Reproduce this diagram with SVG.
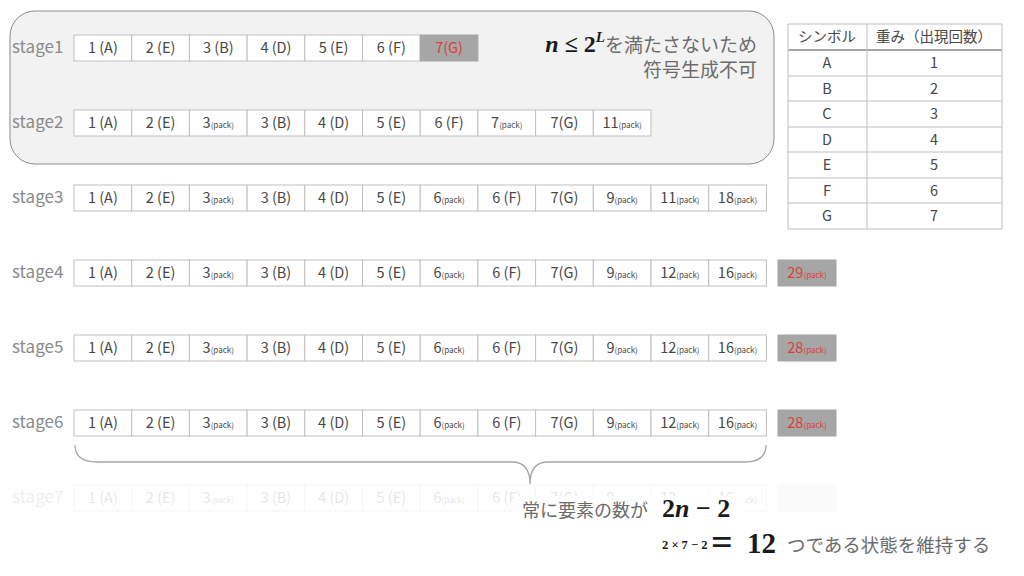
<svg xmlns="http://www.w3.org/2000/svg" width="1024" height="576" viewBox="0 0 1024 576">
<style>
.bg{fill:#ffffff}
.panel{fill:#f2f2f2;stroke:#8c8c8c;stroke-width:1}
.cell{fill:#ffffff;stroke:#bfbfbf;stroke-width:1}
.hot{fill:#a6a6a6;stroke:#a6a6a6;stroke-width:1}
.lbl{font-family:"Noto Sans CJK JP","Noto Sans",sans-serif;font-size:17px;fill:#8a8a8a}
.t{font-family:"Noto Sans CJK JP","Noto Sans",sans-serif;font-size:14.5px;fill:#474747;text-anchor:middle}
.red{fill:#d9413a}
.pk{font-size:8px}
.jp{font-family:"Noto Sans CJK JP",sans-serif;fill:#6b6b6b}
.math{font-family:"Liberation Serif","DejaVu Serif",serif;fill:#1a1a1a;font-weight:bold}
.tl{stroke:#bfbfbf;stroke-width:1;fill:none}
.brace{fill:none;stroke:#a6a6a6;stroke-width:1.3}
</style>
<rect class="bg" x="0" y="0" width="1024" height="576"/>
<g id="panel">
<rect class="panel" x="10" y="11" width="764" height="153" rx="25"/>
<text x="757" y="52" text-anchor="end"><tspan class="math" font-style="italic" font-size="24">n</tspan><tspan class="math" font-size="24"> ≤ </tspan><tspan class="math" font-size="24">2</tspan><tspan class="math" font-style="italic" font-size="15" dy="-10">L</tspan><tspan class="jp" font-size="19" dy="10">を満たさないため</tspan></text>
<text class="jp" x="757" y="77" font-size="19" text-anchor="end">符号生成不可</text>
</g>

<g id="stage1">
<text class="lbl" x="12" y="53">stage1</text>
<rect class="cell" x="74" y="35" width="57.7" height="26"/>
<rect class="cell" x="131.7" y="35" width="57.7" height="26"/>
<rect class="cell" x="189.4" y="35" width="57.7" height="26"/>
<rect class="cell" x="247.1" y="35" width="57.7" height="26"/>
<rect class="cell" x="304.8" y="35" width="57.7" height="26"/>
<rect class="cell" x="362.5" y="35" width="57.7" height="26"/>
<rect class="hot" x="420.2" y="35" width="57.7" height="26"/>
<text class="t" x="102.85" y="53">1 (A)</text>
<text class="t" x="160.55" y="53">2 (E)</text>
<text class="t" x="218.25" y="53">3 (B)</text>
<text class="t" x="275.95" y="53">4 (D)</text>
<text class="t" x="333.65" y="53">5 (E)</text>
<text class="t" x="391.35" y="53">6 (F)</text>
<text class="t red" x="449.05" y="53">7(G)</text>
</g>

<g id="stage2">
<text class="lbl" x="12" y="128">stage2</text>
<rect class="cell" x="74" y="110" width="57.7" height="26"/>
<rect class="cell" x="131.7" y="110" width="57.7" height="26"/>
<rect class="cell" x="189.4" y="110" width="57.7" height="26"/>
<rect class="cell" x="247.1" y="110" width="57.7" height="26"/>
<rect class="cell" x="304.8" y="110" width="57.7" height="26"/>
<rect class="cell" x="362.5" y="110" width="57.7" height="26"/>
<rect class="cell" x="420.2" y="110" width="57.7" height="26"/>
<rect class="cell" x="477.9" y="110" width="57.7" height="26"/>
<rect class="cell" x="535.6" y="110" width="57.7" height="26"/>
<rect class="cell" x="593.3" y="110" width="57.7" height="26"/>
<text class="t" x="102.85" y="128">1 (A)</text>
<text class="t" x="160.55" y="128">2 (E)</text>
<text class="t" x="218.25" y="128">3<tspan class="pk">(pack)</tspan></text>
<text class="t" x="275.95" y="128">3 (B)</text>
<text class="t" x="333.65" y="128">4 (D)</text>
<text class="t" x="391.35" y="128">5 (E)</text>
<text class="t" x="449.05" y="128">6 (F)</text>
<text class="t" x="506.75" y="128">7<tspan class="pk">(pack)</tspan></text>
<text class="t" x="564.45" y="128">7(G)</text>
<text class="t" x="622.15" y="128">11<tspan class="pk">(pack)</tspan></text>
</g>

<g id="stage3">
<text class="lbl" x="12" y="203">stage3</text>
<rect class="cell" x="74" y="185" width="57.7" height="26"/>
<rect class="cell" x="131.7" y="185" width="57.7" height="26"/>
<rect class="cell" x="189.4" y="185" width="57.7" height="26"/>
<rect class="cell" x="247.1" y="185" width="57.7" height="26"/>
<rect class="cell" x="304.8" y="185" width="57.7" height="26"/>
<rect class="cell" x="362.5" y="185" width="57.7" height="26"/>
<rect class="cell" x="420.2" y="185" width="57.7" height="26"/>
<rect class="cell" x="477.9" y="185" width="57.7" height="26"/>
<rect class="cell" x="535.6" y="185" width="57.7" height="26"/>
<rect class="cell" x="593.3" y="185" width="57.7" height="26"/>
<rect class="cell" x="651" y="185" width="57.7" height="26"/>
<rect class="cell" x="708.7" y="185" width="57.7" height="26"/>
<text class="t" x="102.85" y="203">1 (A)</text>
<text class="t" x="160.55" y="203">2 (E)</text>
<text class="t" x="218.25" y="203">3<tspan class="pk">(pack)</tspan></text>
<text class="t" x="275.95" y="203">3 (B)</text>
<text class="t" x="333.65" y="203">4 (D)</text>
<text class="t" x="391.35" y="203">5 (E)</text>
<text class="t" x="449.05" y="203">6<tspan class="pk">(pack)</tspan></text>
<text class="t" x="506.75" y="203">6 (F)</text>
<text class="t" x="564.45" y="203">7(G)</text>
<text class="t" x="622.15" y="203">9<tspan class="pk">(pack)</tspan></text>
<text class="t" x="679.85" y="203">11<tspan class="pk">(pack)</tspan></text>
<text class="t" x="737.55" y="203">18<tspan class="pk">(pack)</tspan></text>
</g>

<g id="stage4">
<text class="lbl" x="12" y="278">stage4</text>
<rect class="cell" x="74" y="260" width="57.7" height="26"/>
<rect class="cell" x="131.7" y="260" width="57.7" height="26"/>
<rect class="cell" x="189.4" y="260" width="57.7" height="26"/>
<rect class="cell" x="247.1" y="260" width="57.7" height="26"/>
<rect class="cell" x="304.8" y="260" width="57.7" height="26"/>
<rect class="cell" x="362.5" y="260" width="57.7" height="26"/>
<rect class="cell" x="420.2" y="260" width="57.7" height="26"/>
<rect class="cell" x="477.9" y="260" width="57.7" height="26"/>
<rect class="cell" x="535.6" y="260" width="57.7" height="26"/>
<rect class="cell" x="593.3" y="260" width="57.7" height="26"/>
<rect class="cell" x="651" y="260" width="57.7" height="26"/>
<rect class="cell" x="708.7" y="260" width="57.7" height="26"/>
<rect class="hot" x="778" y="260" width="58" height="26"/>
<text class="t" x="102.85" y="278">1 (A)</text>
<text class="t" x="160.55" y="278">2 (E)</text>
<text class="t" x="218.25" y="278">3<tspan class="pk">(pack)</tspan></text>
<text class="t" x="275.95" y="278">3 (B)</text>
<text class="t" x="333.65" y="278">4 (D)</text>
<text class="t" x="391.35" y="278">5 (E)</text>
<text class="t" x="449.05" y="278">6<tspan class="pk">(pack)</tspan></text>
<text class="t" x="506.75" y="278">6 (F)</text>
<text class="t" x="564.45" y="278">7(G)</text>
<text class="t" x="622.15" y="278">9<tspan class="pk">(pack)</tspan></text>
<text class="t" x="679.85" y="278">12<tspan class="pk">(pack)</tspan></text>
<text class="t" x="737.55" y="278">16<tspan class="pk">(pack)</tspan></text>
<text class="t red" x="807" y="278">29<tspan class="pk">(pack)</tspan></text>
</g>

<g id="stage5">
<text class="lbl" x="12" y="353">stage5</text>
<rect class="cell" x="74" y="335" width="57.7" height="26"/>
<rect class="cell" x="131.7" y="335" width="57.7" height="26"/>
<rect class="cell" x="189.4" y="335" width="57.7" height="26"/>
<rect class="cell" x="247.1" y="335" width="57.7" height="26"/>
<rect class="cell" x="304.8" y="335" width="57.7" height="26"/>
<rect class="cell" x="362.5" y="335" width="57.7" height="26"/>
<rect class="cell" x="420.2" y="335" width="57.7" height="26"/>
<rect class="cell" x="477.9" y="335" width="57.7" height="26"/>
<rect class="cell" x="535.6" y="335" width="57.7" height="26"/>
<rect class="cell" x="593.3" y="335" width="57.7" height="26"/>
<rect class="cell" x="651" y="335" width="57.7" height="26"/>
<rect class="cell" x="708.7" y="335" width="57.7" height="26"/>
<rect class="hot" x="778" y="335" width="58" height="26"/>
<text class="t" x="102.85" y="353">1 (A)</text>
<text class="t" x="160.55" y="353">2 (E)</text>
<text class="t" x="218.25" y="353">3<tspan class="pk">(pack)</tspan></text>
<text class="t" x="275.95" y="353">3 (B)</text>
<text class="t" x="333.65" y="353">4 (D)</text>
<text class="t" x="391.35" y="353">5 (E)</text>
<text class="t" x="449.05" y="353">6<tspan class="pk">(pack)</tspan></text>
<text class="t" x="506.75" y="353">6 (F)</text>
<text class="t" x="564.45" y="353">7(G)</text>
<text class="t" x="622.15" y="353">9<tspan class="pk">(pack)</tspan></text>
<text class="t" x="679.85" y="353">12<tspan class="pk">(pack)</tspan></text>
<text class="t" x="737.55" y="353">16<tspan class="pk">(pack)</tspan></text>
<text class="t red" x="807" y="353">28<tspan class="pk">(pack)</tspan></text>
</g>

<g id="stage6">
<text class="lbl" x="12" y="428">stage6</text>
<rect class="cell" x="74" y="410" width="57.7" height="26"/>
<rect class="cell" x="131.7" y="410" width="57.7" height="26"/>
<rect class="cell" x="189.4" y="410" width="57.7" height="26"/>
<rect class="cell" x="247.1" y="410" width="57.7" height="26"/>
<rect class="cell" x="304.8" y="410" width="57.7" height="26"/>
<rect class="cell" x="362.5" y="410" width="57.7" height="26"/>
<rect class="cell" x="420.2" y="410" width="57.7" height="26"/>
<rect class="cell" x="477.9" y="410" width="57.7" height="26"/>
<rect class="cell" x="535.6" y="410" width="57.7" height="26"/>
<rect class="cell" x="593.3" y="410" width="57.7" height="26"/>
<rect class="cell" x="651" y="410" width="57.7" height="26"/>
<rect class="cell" x="708.7" y="410" width="57.7" height="26"/>
<rect class="hot" x="778" y="410" width="58" height="26"/>
<text class="t" x="102.85" y="428">1 (A)</text>
<text class="t" x="160.55" y="428">2 (E)</text>
<text class="t" x="218.25" y="428">3<tspan class="pk">(pack)</tspan></text>
<text class="t" x="275.95" y="428">3 (B)</text>
<text class="t" x="333.65" y="428">4 (D)</text>
<text class="t" x="391.35" y="428">5 (E)</text>
<text class="t" x="449.05" y="428">6<tspan class="pk">(pack)</tspan></text>
<text class="t" x="506.75" y="428">6 (F)</text>
<text class="t" x="564.45" y="428">7(G)</text>
<text class="t" x="622.15" y="428">9<tspan class="pk">(pack)</tspan></text>
<text class="t" x="679.85" y="428">12<tspan class="pk">(pack)</tspan></text>
<text class="t" x="737.55" y="428">16<tspan class="pk">(pack)</tspan></text>
<text class="t red" x="807" y="428">28<tspan class="pk">(pack)</tspan></text>
</g>

<g id="stage7" opacity="0.13">
<text class="lbl" x="12" y="503">stage7</text>
<rect class="cell" x="74" y="485" width="57.7" height="26"/>
<rect class="cell" x="131.7" y="485" width="57.7" height="26"/>
<rect class="cell" x="189.4" y="485" width="57.7" height="26"/>
<rect class="cell" x="247.1" y="485" width="57.7" height="26"/>
<rect class="cell" x="304.8" y="485" width="57.7" height="26"/>
<rect class="cell" x="362.5" y="485" width="57.7" height="26"/>
<rect class="cell" x="420.2" y="485" width="57.7" height="26"/>
<rect class="cell" x="477.9" y="485" width="57.7" height="26"/>
<rect class="cell" x="535.6" y="485" width="57.7" height="26"/>
<rect class="cell" x="593.3" y="485" width="57.7" height="26"/>
<rect class="cell" x="651" y="485" width="57.7" height="26"/>
<rect class="cell" x="708.7" y="485" width="57.7" height="26"/>
<rect class="hot" x="778" y="485" width="58" height="26" opacity="0.4"/>
<text class="t" x="102.85" y="503">1 (A)</text>
<text class="t" x="160.55" y="503">2 (E)</text>
<text class="t" x="218.25" y="503">3<tspan class="pk">(pack)</tspan></text>
<text class="t" x="275.95" y="503">3 (B)</text>
<text class="t" x="333.65" y="503">4 (D)</text>
<text class="t" x="391.35" y="503">5 (E)</text>
<text class="t" x="449.05" y="503">6<tspan class="pk">(pack)</tspan></text>
<text class="t" x="506.75" y="503">6 (F)</text>
<text class="t" x="564.45" y="503">7(G)</text>
<text class="t" x="622.15" y="503">9<tspan class="pk">(pack)</tspan></text>
<text class="t" x="679.85" y="503">12<tspan class="pk">(pack)</tspan></text>
<text class="t" x="737.55" y="503">16<tspan class="pk">(pack)</tspan></text>
</g>

<g id="connectors">
<path class="brace" d="M75,445 Q75,462 97,462 L512,462 Q530,462 530,484 Q530,462 548,462 L745,462 Q766,462 766,445"/>
</g>

<g id="note">
<rect x="515" y="496" width="230" height="30" fill="#ffffff" opacity="0.85"/>
<text class="jp" x="522" y="517" font-size="18">常に要素の数が</text>
<text class="math" x="662" y="517" font-size="26">2<tspan font-style="italic">n</tspan><tspan> − </tspan>2</text>
<text class="math" x="662" y="549" font-size="12.5" font-weight="normal">2 × 7 − 2</text>
<text class="math" x="711" y="555" font-size="38">=</text>
<text class="math" x="747" y="553" font-size="29" font-weight="normal">12</text>
<text class="jp" x="787" y="552" font-size="18.5">つである状態を維持する</text>
</g>

<g id="table">
<line class="tl" x1="788" y1="24" x2="1002" y2="24"/>
<line x1="788" y1="50" x2="1002" y2="50" stroke="#a6a6a6" stroke-width="2"/>
<line class="tl" x1="788" y1="76" x2="1002" y2="76"/>
<line class="tl" x1="788" y1="101" x2="1002" y2="101"/>
<line class="tl" x1="788" y1="127" x2="1002" y2="127"/>
<line class="tl" x1="788" y1="152" x2="1002" y2="152"/>
<line class="tl" x1="788" y1="178" x2="1002" y2="178"/>
<line class="tl" x1="788" y1="203" x2="1002" y2="203"/>
<line class="tl" x1="788" y1="229" x2="1002" y2="229"/>
<line class="tl" x1="788" y1="24" x2="788" y2="229"/>
<line class="tl" x1="867" y1="24" x2="867" y2="229"/>
<line class="tl" x1="1002" y1="24" x2="1002" y2="229"/>
<text class="t" x="827" y="42" font-size="13.5">シンボル</text>
<text class="t" x="934" y="42" font-size="13.5">重み（出現回数）</text>
<text class="t" x="827" y="68">A</text><text class="t" x="934" y="68">1</text>
<text class="t" x="827" y="94">B</text><text class="t" x="934" y="94">2</text>
<text class="t" x="827" y="119">C</text><text class="t" x="934" y="119">3</text>
<text class="t" x="827" y="145">D</text><text class="t" x="934" y="145">4</text>
<text class="t" x="827" y="170">E</text><text class="t" x="934" y="170">5</text>
<text class="t" x="827" y="196">F</text><text class="t" x="934" y="196">6</text>
<text class="t" x="827" y="221">G</text><text class="t" x="934" y="221">7</text>
</g>
</svg>
